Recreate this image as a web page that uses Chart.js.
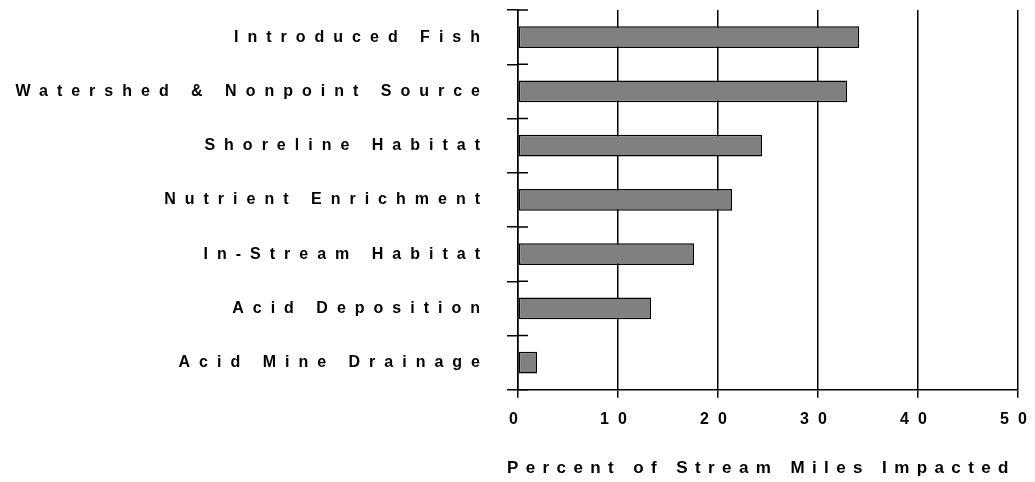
<!DOCTYPE html>
<html>
<head>
<meta charset="utf-8">
<script src="https://cdn.jsdelivr.net/npm/chart.js@4"></script>
<style>
    html, body { margin: 0; padding: 0; background: #fff; }
    #wrap { width: 1035px; height: 482px; }
</style>
</head>
<body>
<div id="wrap"><canvas id="barChart"></canvas></div>
<script>
// Chart data
const categories = [
    'Introduced Fish',
    'Watershed & Nonpoint Source',
    'Shoreline Habitat',
    'Nutrient Enrichment',
    'In-Stream Habitat',
    'Acid Deposition',
    'Acid Mine Drainage'
];
const percentImpacted = [34.1, 32.9, 24.4, 21.4, 17.6, 13.3, 1.9];
const xTicks = [0, 10, 20, 30, 40, 50];
const xTitle = 'Percent of Stream Miles Impacted';

const fontFamily = '"Liberation Sans", Arial, sans-serif';

// spaced-out lettering like the original
const spacingPlugin = {
    id: 'spacing',
    beforeLayout(chart) { chart.ctx.letterSpacing = '9px'; },
    beforeDraw(chart) { chart.ctx.letterSpacing = '9px'; }
};

// short tick marks on the inner side of the category axis
const innerTicks = {
    id: 'innerTicks',
    afterDraw(chart) {
        const y = chart.scales.y;
        const ctx = chart.ctx;
        const step = y.getPixelForTick(1) - y.getPixelForTick(0);
        ctx.save();
        ctx.strokeStyle = '#000';
        ctx.lineWidth = 1.5;
        ctx.beginPath();
        for (let i = 0; i <= categories.length; i++) {
            const py = y.getPixelForTick(0) - step / 2 + i * step;
            ctx.moveTo(y.right, py);
            ctx.lineTo(y.right + 10, py);
        }
        ctx.stroke();
        ctx.restore();
    }
};

// axis title drawn by hand so it is not squeezed to the chart width
const axisTitle = {
    id: 'axisTitle',
    afterDraw(chart) {
        const area = chart.chartArea;
        const ctx = chart.ctx;
        ctx.save();
        ctx.letterSpacing = '7.4px';
        ctx.font = 'bold 17px ' + fontFamily;
        ctx.fillStyle = '#000';
        ctx.textAlign = 'left';
        ctx.textBaseline = 'middle';
        ctx.fillText(xTitle, area.left - 11, area.bottom + 78.5);
        ctx.restore();
    }
};

function renderBarChart() {
    const ctx = document.getElementById('barChart').getContext('2d');
    new Chart(ctx, {
        type: 'bar',
        data: {
            labels: categories,
            datasets: [{
                data: percentImpacted,
                backgroundColor: '#808080',
                borderColor: '#000',
                borderWidth: 1.5,
                borderSkipped: false,
                categoryPercentage: 1,
                barPercentage: 0.4
            }]
        },
        options: {
            indexAxis: 'y',
            responsive: true,
            maintainAspectRatio: false,
            animation: false,
            layout: { padding: { top: 10, right: 0, left: 0, bottom: 41 } },
            plugins: {
                legend: { display: false },
                tooltip: { enabled: false }
            },
            scales: {
                x: {
                    min: 0,
                    max: 50,
                    afterBuildTicks(scale) {
                        scale.ticks = xTicks.map(v => ({ value: v }));
                    },
                    afterFit(scale) {
                        scale.paddingLeft = 0;
                        scale.paddingRight = 17;
                    },
                    grid: { color: '#000', lineWidth: 1.5, tickLength: 8 },
                    border: { color: '#000', width: 1.5 },
                    ticks: {
                        color: '#000',
                        padding: 12,
                        maxRotation: 0,
                        font: { family: fontFamily, size: 16, weight: 'bold' }
                    }
                },
                y: {
                    offset: true,
                    afterFit(scale) {
                        scale.width = 518;
                        scale.paddingTop = 0;
                        scale.paddingBottom = 0;
                    },
                    grid: {
                        offset: true,
                        drawOnChartArea: false,
                        color: '#000',
                        lineWidth: 1.5,
                        tickLength: 11
                    },
                    border: { color: '#000', width: 1.5 },
                    ticks: {
                        color: '#000',
                        padding: 18,
                        font: { family: fontFamily, size: 16, weight: 'bold' }
                    }
                }
            }
        },
        plugins: [spacingPlugin, innerTicks, axisTitle]
    });
}

renderBarChart();
</script>
</body>
</html>
